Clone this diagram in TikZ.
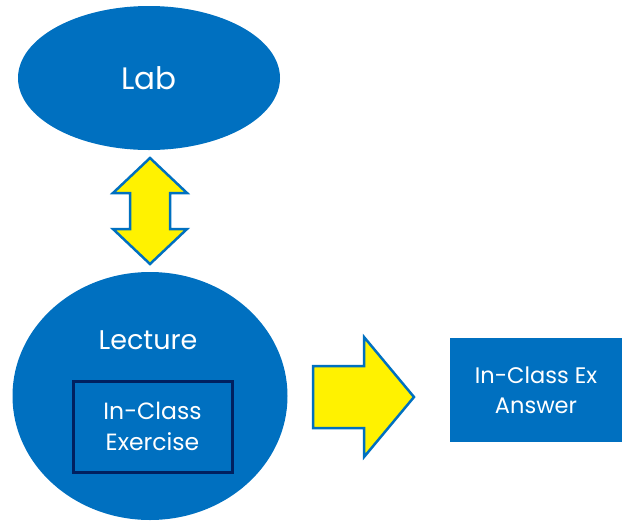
\documentclass[tikz,border=0pt]{standalone}
\usepackage{fontspec}
\setmainfont{Poppins}
\usetikzlibrary{shapes.geometric, positioning, calc}

\definecolor{slideblue}{HTML}{0070C0}
\definecolor{navy}{HTML}{002060}

\tikzset{
    blob/.style={ellipse, fill=slideblue, draw=none, inner sep=0pt},
    card/.style={rectangle, fill=slideblue, inner sep=0pt, align=center, text=white},
    blocky/.style={fill=yellow, draw=slideblue, line width=2.5pt, line join=miter},
    caption/.style={text=white, align=center}
}

\begin{document}
\begin{tikzpicture}[x=1pt, y=-1pt]
        \useasboundingbox (0,0) rectangle (622,523);
        % the two ellipses
        \node[blob, minimum width=262pt, minimum height=144pt] (lab) at (149,78) {};
        \node[caption, font=\fontsize{31}{31}\selectfont] (labtext) at (lab.center) {Lab};
        \node[blob, minimum width=275pt, minimum height=248pt] (lecture) at (150,396) {};
        \node[caption, font=\fontsize{27}{27}\selectfont] (lecturetext) at (148,340) {Lecture};
        % exercise box inside the lecture
        \node[card, draw=navy, line width=3pt, minimum width=159pt, minimum height=91pt,
              font=\fontsize{23.5}{31}\selectfont] (exercise) at (152.5,426.5) {In-Class\\Exercise};
        % answer box
        \node[card, minimum width=172pt, minimum height=104pt,
              font=\fontsize{22.5}{30}\selectfont] (answer) at (536,390) {In-Class Ex\\Answer};
        % up-down arrow between lab and lecture
        \draw[blocky] (150,158) -- (113,193) -- (130,193) -- (130,229) -- (113,229)
            -- (150,264) -- (187,229) -- (170,229) -- (170,193) -- (187,193) -- cycle;
        % arrow towards the answer
        \draw[blocky] (313,366) -- (364,366) -- (364,337) -- (414,397) -- (364,457)
            -- (364,428) -- (313,428) -- cycle;
    \end{tikzpicture}
\end{document}
